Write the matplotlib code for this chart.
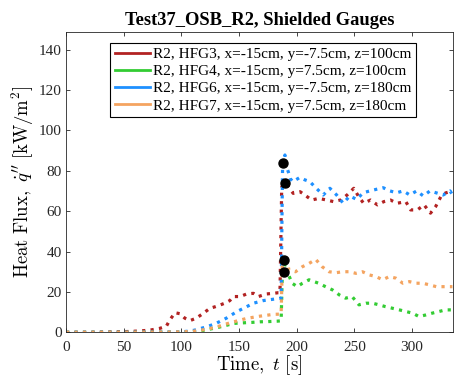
import matplotlib
matplotlib.use("Agg")
import matplotlib.pyplot as plt
from matplotlib.lines import Line2D

plt.rcParams['font.family'] = ['Liberation Serif', 'DejaVu Serif']
plt.rcParams['mathtext.fontset'] = 'cm'

# ---------------- data ----------------
labels = ["R2, HFG3, x=-15cm, y=-7.5cm, z=100cm",
          "R2, HFG4, x=-15cm, y=7.5cm, z=100cm",
          "R2, HFG6, x=-15cm, y=-7.5cm, z=180cm",
          "R2, HFG7, x=-15cm, y=7.5cm, z=180cm"]
colors = ["#B22222", "#33CC33", "#1E90FF", "#F4A460"]

t_hfg3 = [0, 20, 40, 55, 65, 73, 81, 87, 90, 94.5, 98.8, 103, 107.5, 113, 119, 124.8, 129,
          133.5, 138, 142, 145, 151, 156.7, 162.5, 166.8, 170, 174, 179.8, 184, 185.5, 187,
          189.8, 192.7, 197, 203, 207, 213, 219, 226, 232, 238, 243.7, 249.5, 253.7, 258, 264,
          270, 275.5, 281.3, 287, 294.6, 298.8, 304.6, 310.4, 316, 320.5, 325, 329, 335]
q_hfg3 = [0, 0, 0.2, 0.4, 0.7, 1.1, 1.9, 3, 6.1, 9.7, 9.2, 7, 5.8, 7, 9.4, 11.9, 12.6,
          13.5, 14.5, 15.7, 17.7, 17.7, 19, 19.3, 17.7, 18.3, 19, 19.3, 19.6, 19.6, 72,
          74, 72, 68.8, 69.6, 68, 65.5, 66.3, 65.5, 64.7, 65.5, 68, 71.3, 67.2, 63.9, 65.5,
          63.1, 64.7, 65.5, 63.9, 64.7, 60.6, 60.6, 63.1, 59, 62.3, 67.2, 69, 70]

t_hfg4 = [0, 50, 100, 110, 116.6, 124, 131, 138, 145.5, 154, 161, 168.3, 175, 183, 186.5,
          187.5, 188.9, 190, 191.5, 193, 196, 200.5, 205, 210.7, 215, 219, 225, 231, 237,
          242.4, 248, 254, 260, 265.7, 271.4, 277, 283, 289, 294.6, 300.4, 306, 312, 317.6,
          323.4, 329, 335]
q_hfg4 = [0, 0, 0.1, 0.3, 0.7, 1.5, 2.3, 3.3, 4.4, 4.7, 4.9, 5.2, 5.3, 5.5, 5.7,
          28, 30, 34.1, 29, 28.4, 24.3, 22.6, 24.3, 26, 25.1, 24.3, 22.6, 21, 18.5,
          16.9, 17.7, 13.6, 14.4, 14.4, 13.6, 12.7, 11.9, 11.1, 10.3, 9.5, 7.8, 8.6, 9.5,
          10.3, 11.1, 11.1]

t_hfg6 = [0, 50, 100, 105, 111, 116, 122, 130.4, 139, 148, 156.7, 162.5, 171, 180, 186.5,
          187.3, 187.8, 189.8, 191, 192.7, 194.5, 196.6, 202.8, 207, 211.4, 217, 223, 228.8,
          234.6, 240.3, 246, 252, 257.6, 263.4, 269, 275, 280.8, 286.6, 292.4, 298, 304,
          309.8, 315.5, 321.3, 327, 333, 335]
q_hfg6 = [0, 0, 0.2, 0.5, 1, 1.8, 2.7, 4.5, 7, 10.2, 12.7, 14.4, 15.7, 16.4, 16.9,
          60, 84, 87.8, 82, 79.5, 76, 74.6, 76.7, 75.5, 74.6, 71.3, 68, 71.3,
          68, 63.9, 67.5, 65.8, 69.1, 70, 70.8, 71.6, 70, 69.1, 70, 68, 70,
          67.5, 70, 69, 68, 70, 68]

t_hfg7 = [0, 50, 100, 110, 116.6, 124, 131, 138, 145.5, 156.7, 168.3, 180, 186.5, 187.5,
          188.9, 190.5, 191.5, 193.3, 199, 205, 210.7, 216.5, 222, 228, 234, 240, 245.5,
          251.3, 257, 263, 268.8, 274.5, 280.3, 286, 292, 297.7, 303.5, 309.3, 315, 321,
          326.6, 335]
q_hfg7 = [0, 0, 0.2, 0.5, 1, 1.8, 2.7, 4, 5.2, 6.9, 8, 8.9, 9, 33,
          35.8, 37.8, 36, 30.8, 30, 32.5, 34.1, 36.1, 32.5, 30, 29.5, 30, 30,
          29.2, 30, 28.4, 27.6, 26, 27.6, 26.8, 24.3, 25.1, 24.3, 24.3, 23.5, 22.6,
          22.6, 22.6]

t_marks = [189.8, 188.9, 187.8, 188.9]
q_marks = [74, 30, 84, 35.8]

xticks = [0, 50, 100, 150, 200, 250, 300]
yticks = [0, 20, 40, 60, 80, 100, 120, 140]

# ---------------- figure ----------------
fig = plt.figure(figsize=(4.54, 3.82), dpi=100)
ax = fig.add_axes([66/454, 49.7/382, 387/454, 300.3/382])

series = [(t_hfg3, q_hfg3), (t_hfg4, q_hfg4), (t_hfg6, q_hfg6), (t_hfg7, q_hfg7)]
for (tt, qq), c in zip(series, colors):
    ax.plot(tt, qq, linestyle=':', color=c, linewidth=2.3)
ax.plot(t_marks, q_marks, 'o', color='black', markersize=6.5, linestyle='none', zorder=5)

ax.set_xlim(0, 335.5)
ax.set_ylim(0, 148.7)
ax.set_xticks(xticks)
ax.set_yticks(yticks)
ax.tick_params(direction='in', top=True, right=True, length=3, width=0.6,
               labelsize=11, colors='#262626')
ax.tick_params(axis='x', pad=6)
ax.tick_params(axis='y', pad=3)
for s in ax.spines.values():
    s.set_linewidth(0.6)
    s.set_color('#262626')

ax.set_xlabel(r'$\mathrm{Time,}\ t\ [\mathrm{s}]$', fontsize=13.5, labelpad=0)
ax.set_ylabel(r"$\mathrm{Heat\ Flux,}\ \dot{q}''\ [\mathrm{kW/m^2}]$", fontsize=13.5, labelpad=2)
ax.set_title('Test37_OSB_R2, Shielded Gauges', fontsize=13.3, fontweight='bold', pad=5)

handles = [Line2D([0], [0], color=c, linewidth=2) for c in colors]
leg = ax.legend(handles, labels, loc='upper left', bbox_to_anchor=(0.114, 0.963),
                borderaxespad=0, fontsize=11, frameon=True, fancybox=False,
                framealpha=1, edgecolor='black', handlelength=2.3, handletextpad=0.2,
                labelspacing=0.22, borderpad=0.3)
leg.get_frame().set_linewidth(0.8)

fig.savefig('out.png', dpi=100)
